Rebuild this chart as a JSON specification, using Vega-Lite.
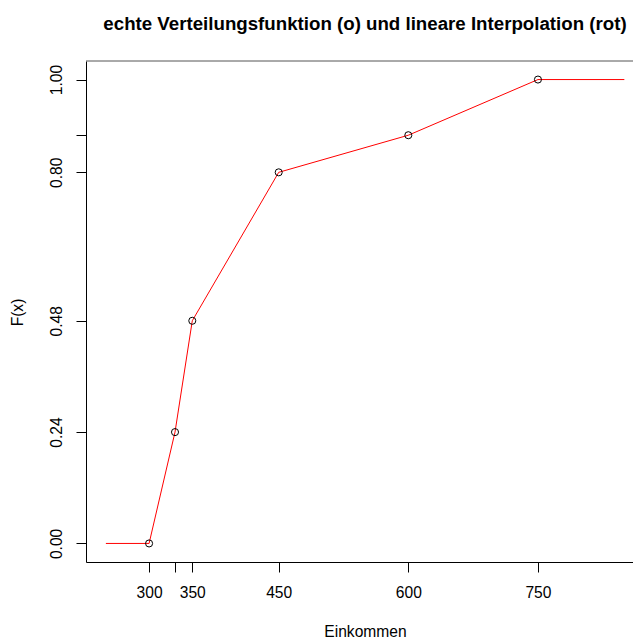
{
  "$schema": "https://vega.github.io/schema/vega-lite/v6.json",
  "autosize": {"type": "none"},
  "width": 547,
  "height": 501,
  "padding": {"left": 86, "top": 61, "right": 0, "bottom": 76},
  "background": "white",
  "config": {
    "view": {"stroke": null},
    "font": "Liberation Sans",
    "axis": {
      "domainColor": "black",
      "tickColor": "black",
      "tickSize": 10,
      "labelColor": "black",
      "titleColor": "black",
      "labelFontSize": 15.6,
      "titleFontSize": 15.6,
      "titleFontWeight": "normal",
      "labelFont": "Liberation Sans",
      "titleFont": "Liberation Sans",
      "grid": false
    }
  },
  "title": {
    "text": "echte Verteilungsfunktion (o) und lineare Interpolation (rot)",
    "font": "Liberation Sans",
    "fontSize": 18.7,
    "fontWeight": "bold",
    "color": "black",
    "anchor": "middle",
    "dx": 5.5,
    "offset": 27
  },
  "datasets": {
    "line": [
      {"x": 250, "F": 0},
      {"x": 300, "F": 0},
      {"x": 330, "F": 0.24},
      {"x": 350, "F": 0.48},
      {"x": 450, "F": 0.8},
      {"x": 600, "F": 0.88},
      {"x": 750, "F": 1},
      {"x": 850, "F": 1}
    ],
    "pts": [
      {"x": 300, "F": 0},
      {"x": 330, "F": 0.24},
      {"x": 350, "F": 0.48},
      {"x": 450, "F": 0.8},
      {"x": 600, "F": 0.88},
      {"x": 750, "F": 1}
    ]
  },
  "layer": [
    {
      "data": {"name": "line"},
      "mark": {"type": "line", "color": "red", "strokeWidth": 1},
      "encoding": {
        "x": {
          "field": "x", "type": "quantitative",
          "scale": {"domain": [227, 860], "nice": false, "zero": false},
          "axis": {
            "title": "Einkommen",
            "values": [300, 330, 350, 450, 600, 750],
            "labelExpr": "datum.value == 330 ? '' : datum.value",
            "labelPadding": 13,
            "titleX": 279,
            "titleY": 69,
            "titleBaseline": "middle",
            "titleAnchor": "start",
            "titleAlign": "center"
          }
        },
        "y": {
          "field": "F", "type": "quantitative",
          "scale": {"domain": [-0.04, 1.04], "nice": false, "zero": false},
          "axis": {
            "title": "F(x)",
            "values": [0, 0.24, 0.48, 0.8, 0.88, 1],
            "labelExpr": "datum.value == 0.88 ? '' : format(datum.value, '.2f')",
            "labelAngle": 270,
            "labelAlign": "center",
            "labelBaseline": "bottom",
            "labelPadding": 12,
            "titleAngle": 270,
            "titleX": -69,
            "titleY": 251,
            "titleAlign": "center",
            "titleBaseline": "middle"
          }
        }
      }
    },
    {
      "data": {"name": "pts"},
      "mark": {"type": "point", "shape": "circle", "filled": false, "color": "black", "size": 50, "strokeWidth": 1, "opacity": 1},
      "encoding": {
        "x": {"field": "x", "type": "quantitative"},
        "y": {"field": "F", "type": "quantitative"}
      }
    },
    {
      "data": {"values": [{"F": 1.04}]},
      "mark": {"type": "rule", "color": "#555555", "strokeWidth": 1},
      "encoding": {
        "y": {"field": "F", "type": "quantitative"}
      }
    }
  ]
}
